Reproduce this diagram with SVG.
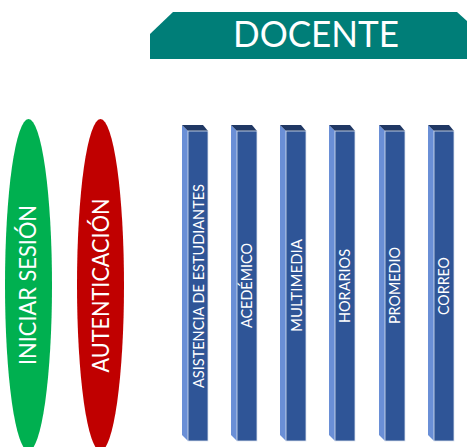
<svg xmlns="http://www.w3.org/2000/svg" width="467" height="447" viewBox="0 0 467 447">
<style>
text{font-family:"Lato","Open Sans","Liberation Sans",sans-serif;fill:#fff;text-anchor:middle}
.lbl{font-size:15.500px}
.big{font-size:23px}
.front{fill:#2f5597;stroke:#dbe3f1;stroke-width:.8}
.side{fill:#6a8fd6}
.top{fill:#203864}
</style>
<defs>
<g id="bar">
<polygon class="side" points="182,125 188,131 188,441 182,435"/>
<polygon class="top" points="182,125 203,125 208,131 188,131"/>
<rect class="front" x="188" y="131" width="20" height="310"/>
</g>
</defs>
<rect width="467" height="447" fill="#fff"/>
<g id="connectors"/>
<g id="docente">
<polygon points="150,59 150,34 173,12 457,12 467,21 467,59" fill="#007e78"/>
<text x="316" y="47" font-size="37" textLength="166" lengthAdjust="spacingAndGlyphs">DOCENTE</text>
</g>
<g id="iniciar-sesion">
<ellipse cx="28.500" cy="285" rx="23.500" ry="166" fill="#00b050"/>
<text class="big" transform="translate(36 285) rotate(-90)" textLength="160" lengthAdjust="spacingAndGlyphs">INICIAR SESIÓN</text>
</g>
<g id="autenticacion">
<ellipse cx="100.500" cy="285" rx="23.500" ry="166" fill="#c00000"/>
<text class="big" transform="translate(109 285.500) rotate(-90)" textLength="174" lengthAdjust="spacingAndGlyphs">AUTENTICACIÓN</text>
</g>
<g id="asistencia">
<use href="#bar"/>
<text class="lbl" transform="translate(204 286) rotate(-90)" textLength="204" lengthAdjust="spacingAndGlyphs">ASISTENCIA DE ESTUDIANTES</text>
</g>
<g id="academico">
<use href="#bar" x="49"/>
<text class="lbl" transform="translate(252 285.500) rotate(-90)" textLength="85" lengthAdjust="spacingAndGlyphs">ACEDÉMICO</text>
</g>
<g id="multimedia">
<use href="#bar" x="98"/>
<text class="lbl" transform="translate(301.500 285.500) rotate(-90)" textLength="93" lengthAdjust="spacingAndGlyphs">MULTIMEDIA</text>
</g>
<g id="horarios">
<use href="#bar" x="147"/>
<text class="lbl" transform="translate(350 286) rotate(-90)" textLength="74" lengthAdjust="spacingAndGlyphs">HORARIOS</text>
</g>
<g id="promedio">
<use href="#bar" x="197"/>
<text class="lbl" transform="translate(399.500 285.500) rotate(-90)" textLength="77" lengthAdjust="spacingAndGlyphs">PROMEDIO</text>
</g>
<g id="correo">
<use href="#bar" x="246"/>
<text class="lbl" transform="translate(449 286) rotate(-90)" textLength="58" lengthAdjust="spacingAndGlyphs">CORREO</text>
</g>
</svg>
